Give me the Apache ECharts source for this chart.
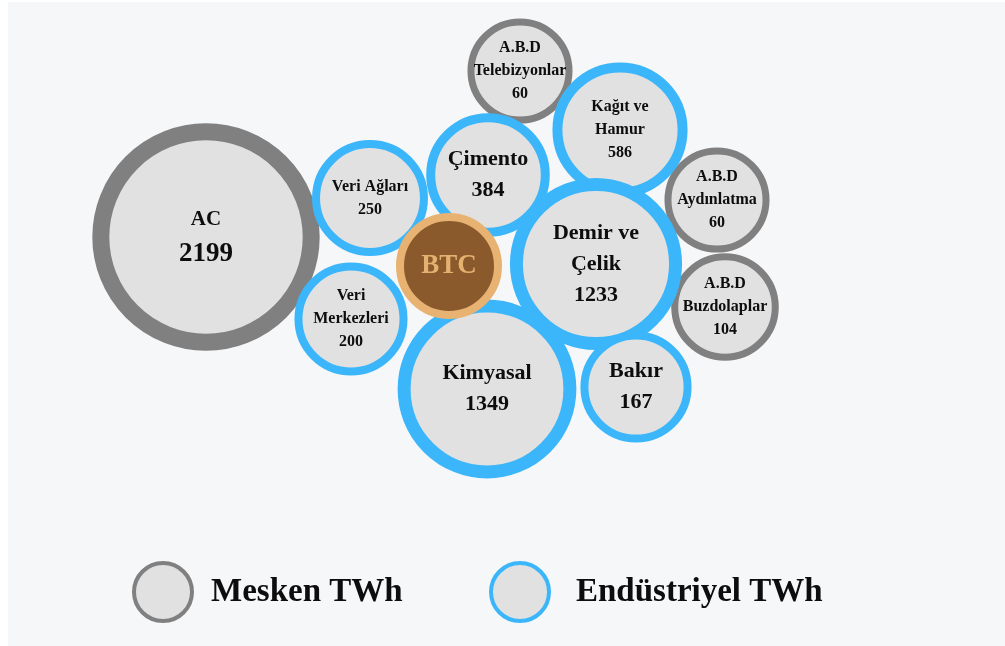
<!DOCTYPE html>
<html>
<head>
<meta charset="utf-8">
<script src="https://cdn.jsdelivr.net/npm/echarts@6/dist/echarts.min.js"></script>
<style>
  html, body { margin: 0; padding: 0; background: #ffffff; }
  #chart { width: 1005px; height: 646px; }
</style>
</head>
<body>
<div id="chart"></div>
<script>
// ---- Data ----
const meskenNames = ['AC', 'A.B.D\nTelebizyonlar', 'A.B.D\nAydınlatma', 'A.B.D\nBuzdolaplar'];
const meskenValues = [2199, 60, 60, 104];
const meskenLayoutX = [206, 520, 717, 725];
const meskenLayoutY = [237, 71, 200, 307];

const endustriNames = ['Veri Ağları', 'Çimento', 'Kağıt ve\nHamur', 'Demir ve\nÇelik', 'Veri\nMerkezleri', 'Kimyasal', 'Bakır'];
const endustriValues = [250, 384, 586, 1233, 200, 1349, 167];
const endustriLayoutX = [370, 488, 620, 596, 351, 487, 636];
const endustriLayoutY = [198, 175, 130, 264, 319, 389, 387];

const btcName = 'BTC';
const btcLayoutX = [449];
const btcLayoutY = [266];

const legendNames = ['Mesken TWh', 'Endüstriyel TWh'];

// ---- Styling ----
const FONT = "'Liberation Serif', 'Times New Roman', 'DejaVu Serif', serif";
const GRAY = '#808080';
const BLUE = '#3bb6fa';
const FILL = '#e1e1e1';
const TEXT = '#0d0d0d';

function outerRadius(v) { return 50.8 + 0.0286 * v; }
function borderW(v) { return Math.round(7 + 0.0045 * v); }

function labelFor(name, value) {
  let nSize, vSize, lh;
  const singleShort = name.indexOf('\n') < 0 && name.length <= 8;
  if (value >= 2000) { nSize = 21; vSize = 27; lh = 34; }
  else if (value >= 1000 || singleShort) { nSize = 22; vSize = 22; lh = 31; }
  else { nSize = 16; vSize = 16; lh = 23; }
  return {
    show: true,
    position: 'inside',
    formatter: name.split('\n').map(s => '{n|' + s + '}').join('\n') + '\n{v|' + value + '}',
    rich: {
      n: { fontFamily: FONT, fontWeight: 'bold', fontSize: nSize, lineHeight: lh, color: TEXT, align: 'center' },
      v: { fontFamily: FONT, fontWeight: 'bold', fontSize: vSize, lineHeight: lh, color: TEXT, align: 'center' }
    }
  };
}

function buildItems(names, values, xs, ys) {
  return names.map((n, i) => {
    const bw = borderW(values[i]);
    return {
      name: n,
      value: [xs[i], ys[i], values[i]],
      symbolSize: 2 * outerRadius(values[i]) - bw,
      itemStyle: { borderWidth: bw },
      label: labelFor(n, values[i])
    };
  });
}

const chart = echarts.init(document.getElementById('chart'), null, { renderer: 'canvas' });

const option = {
  animation: false,
  backgroundColor: '#ffffff',
  grid: { left: 8, top: 2, right: 0, bottom: 0, show: true, backgroundColor: '#f6f7f9', borderWidth: 0 },
  xAxis: { type: 'value', min: 8, max: 1005, show: false },
  yAxis: { type: 'value', min: 2, max: 646, inverse: true, show: false },
  legend: [
    {
      data: [{ name: legendNames[0], icon: 'circle', itemStyle: { color: FILL, borderColor: GRAY, borderWidth: 4 } }],
      left: 132, top: 561, padding: 0, itemWidth: 58, itemHeight: 58, selectedMode: false,
      textStyle: { fontFamily: FONT, fontWeight: 'bold', fontSize: 33, color: TEXT, padding: [0, 0, 0, 14] }
    },
    {
      data: [{ name: legendNames[1], icon: 'circle', itemStyle: { color: FILL, borderColor: BLUE, borderWidth: 4 } }],
      left: 489, top: 561, padding: 0, itemWidth: 58, itemHeight: 58, selectedMode: false,
      textStyle: { fontFamily: FONT, fontWeight: 'bold', fontSize: 33, color: TEXT, padding: [0, 0, 0, 22] }
    }
  ],
  series: [
    {
      name: legendNames[0],
      type: 'scatter',
      symbol: 'circle',
      itemStyle: { color: FILL, borderColor: GRAY, opacity: 1 },
      emphasis: { disabled: true },
      data: buildItems(meskenNames, meskenValues, meskenLayoutX, meskenLayoutY),
      z: 2
    },
    {
      name: legendNames[1],
      type: 'scatter',
      symbol: 'circle',
      itemStyle: { color: FILL, borderColor: BLUE, opacity: 1 },
      emphasis: { disabled: true },
      data: buildItems(endustriNames, endustriValues, endustriLayoutX, endustriLayoutY),
      z: 2
    },
    {
      name: btcName,
      type: 'scatter',
      symbol: 'circle',
      symbolSize: 98,
      itemStyle: { color: '#8b5a2c', borderColor: '#e7b272', borderWidth: 8, opacity: 1 },
      emphasis: { disabled: true },
      label: { show: true, position: 'inside', formatter: btcName, fontFamily: FONT, fontWeight: 'bold', fontSize: 27, color: '#e5b171' },
      data: [[btcLayoutX[0], btcLayoutY[0]]],
      z: 3
    }
  ]
};
chart.setOption(option);
</script>
</body>
</html>
